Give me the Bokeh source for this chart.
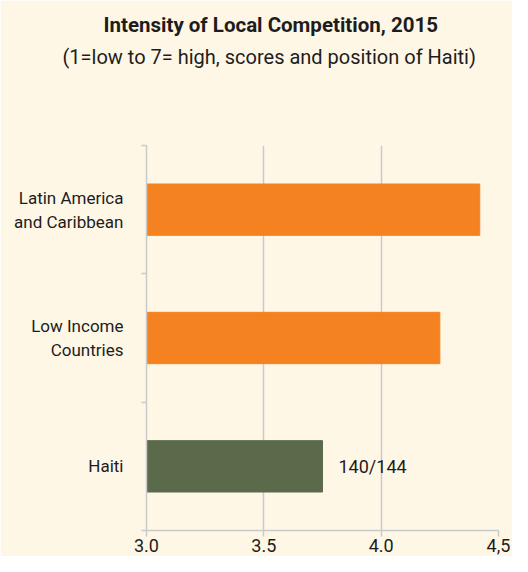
from bokeh.plotting import figure
from bokeh.models import Range1d, FixedTicker, Title, ColumnDataSource
from bokeh.embed import file_html
from bokeh.resources import INLINE
from bokeh.core.properties import value

# ---- data ----
categories = ["Haiti", "Low Income Countries", "Latin America and Caribbean"]
category_labels = ["Haiti", "Low Income\nCountries", "Latin America\nand Caribbean"]
scores = [3.75, 4.25, 4.42]
bar_colors = ["#5A6A4B", "#F58220", "#F58220"]
haiti_rank = "140/144"
x_ticks = [3.0, 3.5, 4.0, 4.5]
x_tick_labels = ["3.0", "3.5", "4.0", "4,5"]
title_text = "Intensity of Local Competition, 2015"
subtitle_text = "(1=low to 7= high, scores and position of Haiti)"

BG = "#FEF7E6"
GRID = "#C9C9C9"
TXT = "#1E1C1C"
FONT = "Roboto"

positions = [i + 0.5 for i in range(len(categories))]
boundaries = [float(i) for i in range(len(categories) + 1)]

src = ColumnDataSource(dict(y=positions, right=scores, color=bar_colors, name=categories))

p = figure(width=512, height=556, output_backend="svg", toolbar_location=None,
           x_range=Range1d(3.0, 4.5), y_range=Range1d(0, len(categories)),
           min_border_left=146, min_border_right=14, min_border_top=145, min_border_bottom=26)
p.background_fill_color = BG
p.border_fill_color = BG
p.outline_line_color = None

p.hbar(y="y", left=3.0, right="right", height=0.4, color="color", source=src)

haiti_idx = categories.index("Haiti")
p.text(x=[scores[haiti_idx]], y=[positions[haiti_idx]], text=[haiti_rank],
       x_offset=16, text_baseline="middle", text_align="left",
       text_font=value(FONT), text_font_size="18px", text_color=TXT)

# x axis
p.xaxis.ticker = FixedTicker(ticks=x_ticks)
p.xaxis.major_label_overrides = {t: l for t, l in zip(x_ticks, x_tick_labels)}
p.xaxis.axis_line_color = GRID
p.xaxis.axis_line_width = 1.5
p.xaxis.major_tick_line_color = GRID
p.xaxis.major_tick_line_width = 1.5
p.xaxis.major_tick_out = 6
p.xaxis.major_tick_in = 0
p.xaxis.minor_tick_line_color = None
p.xaxis.major_label_standoff = 2
p.xaxis.major_label_text_font = FONT
p.xaxis.major_label_text_font_size = "18px"
p.xaxis.major_label_text_color = TXT

# y axis: labels at centres, small ticks at boundaries
p.yaxis.ticker = FixedTicker(ticks=positions, minor_ticks=boundaries)
p.yaxis.major_label_overrides = {pos: lab for pos, lab in zip(positions, category_labels)}
p.yaxis.axis_line_color = GRID
p.yaxis.axis_line_width = 1.5
p.yaxis.major_tick_line_color = None
p.yaxis.major_tick_out = 0
p.yaxis.major_tick_in = 0
p.yaxis.minor_tick_line_color = GRID
p.yaxis.minor_tick_line_width = 1.5
p.yaxis.minor_tick_out = 5
p.yaxis.minor_tick_in = 0
p.yaxis.major_label_standoff = 18
p.yaxis.major_label_text_font = FONT
p.yaxis.major_label_text_font_size = "17px"
p.yaxis.major_label_text_color = TXT

p.xgrid.ticker = FixedTicker(ticks=x_ticks)
p.xgrid.grid_line_color = GRID
p.xgrid.grid_line_width = 1.5
p.ygrid.grid_line_color = None

# titles: main title outermost (p.title); spacer added first (nearest the frame), then subtitle
p.title.text = title_text
p.title.align = "left"
p.title.offset = -43
p.title.standoff = 8
p.title.text_font = FONT
p.title.text_font_size = "20.5px"
p.title.text_font_style = "bold"
p.title.text_color = TXT
p.add_layout(Title(text=" ", align="left", standoff=62, text_font=FONT,
                   text_font_size="10px"), "above")
p.add_layout(Title(text=subtitle_text, align="left", offset=-84, standoff=4,
                   text_font=FONT, text_font_size="20px", text_font_style="normal",
                   text_color=TXT), "above")

open("out.html", "w").write(file_html(p, INLINE))
